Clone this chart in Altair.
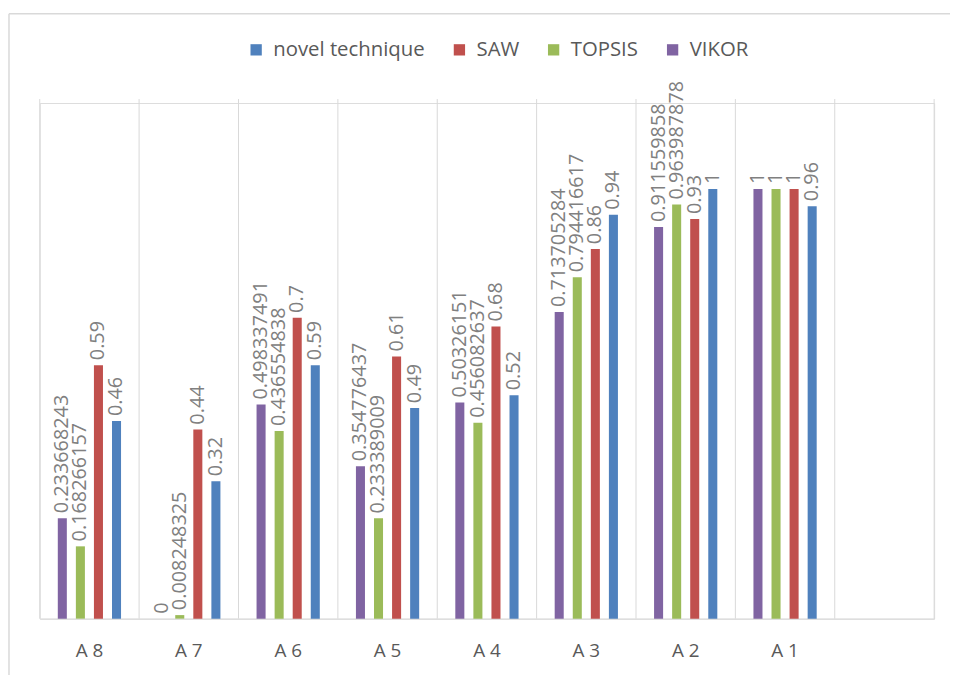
import altair as alt
import pandas as pd

# ---- data ----
categories = ["A 8", "A 7", "A 6", "A 5", "A 4", "A 3", "A 2", "A 1"]
axis_domain = categories + [""]          # Excel leaves one empty slot at the right
series_order = ["VIKOR", "TOPSIS", "SAW", "novel technique"]
legend_order = ["novel technique", "SAW", "TOPSIS", "VIKOR"]
colors = ["#4F81BD", "#C0504D", "#9BBB59", "#8064A2"]

vikor = [0.233668243, 0, 0.498337491, 0.354776437, 0.50326151, 0.713705284, 0.911559858, 1]
topsis = [0.168266157, 0.008248325, 0.436554838, 0.233389009, 0.456082637, 0.794416617, 0.963987878, 1]
saw = [0.59, 0.44, 0.7, 0.61, 0.68, 0.86, 0.93, 1]
novel = [0.46, 0.32, 0.59, 0.49, 0.52, 0.94, 1, 0.96]


def fmt(v):
    s = repr(float(v))
    return s[:-2] if s.endswith(".0") else s


rows = []
for name, vals in zip(series_order, [vikor, topsis, saw, novel]):
    for c, v in zip(categories, vals):
        rows.append({"cat": c, "series": name, "value": v, "label": fmt(v)})
df = pd.DataFrame(rows)

grid_df = pd.DataFrame({"cat": axis_domain})
end_df = pd.DataFrame({"cat": [axis_domain[-1]]})

W, H = 902, 520
FONT = "Open Sans"

xscale = alt.Scale(domain=axis_domain, paddingInner=0, paddingOuter=0)
yscale = alt.Scale(domain=[0, 1.2])
xoff = alt.XOffset("series:N", scale=alt.Scale(domain=series_order, paddingInner=0.5, paddingOuter=1))

x_axis = alt.Axis(title=None, labelFont=FONT, labelFontSize=19, labelColor="#595959",
                  labelPadding=23, ticks=False, tickSize=0, domainColor="#D9D9D9",
                  domainWidth=1, grid=False, labelAngle=0)

grid = alt.Chart(grid_df).mark_rule(color="#D9D9D9", strokeWidth=1).encode(
    x=alt.X("cat:N", scale=xscale, bandPosition=0, axis=x_axis, sort=axis_domain),
    y=alt.value(-4), y2=alt.value(H),
)
grid_end = alt.Chart(end_df).mark_rule(color="#D9D9D9", strokeWidth=1).encode(
    x=alt.X("cat:N", scale=xscale, bandPosition=1, sort=axis_domain),
    y=alt.value(-4), y2=alt.value(H),
)

bars = alt.Chart(df).mark_bar().encode(
    x=alt.X("cat:N", scale=xscale, sort=axis_domain),
    xOffset=xoff,
    y=alt.Y("value:Q", scale=yscale, axis=None),
    color=alt.Color("series:N", scale=alt.Scale(domain=legend_order, range=colors),
                    legend=alt.Legend(title=None, orient="none", legendX=208, legendY=-64,
                                      direction="horizontal", symbolType="square",
                                      symbolSize=130, symbolStrokeWidth=0,
                                      labelFont=FONT, labelFontSize=20.5,
                                      labelColor="#595959", labelOffset=7,
                                      columnPadding=24)),
)

labels = alt.Chart(df).mark_text(angle=270, align="left", baseline="middle", dx=5,
                                 font=FONT, fontSize=20, color="#808080").encode(
    x=alt.X("cat:N", scale=xscale, sort=axis_domain),
    xOffset=xoff,
    y=alt.Y("value:Q", scale=yscale, axis=None),
    text="label:N",
)

frame_df = pd.DataFrame({"k": [0]})
left_border = alt.Chart(frame_df).mark_rule(color="#D9D9D9", strokeWidth=1.5).encode(
    x=alt.value(-31), y=alt.value(-90), y2=alt.value(H + 60))
top_border = alt.Chart(frame_df).mark_rule(color="#D9D9D9", strokeWidth=1.5).encode(
    x=alt.value(-31), x2=alt.value(W + 60), y=alt.value(-90))

chart = alt.layer(grid, grid_end, bars, labels, left_border, top_border).properties(
    width=W, height=H,
    padding={"left": 32, "top": 93, "right": 16, "bottom": 54},
    autosize=alt.AutoSizeParams(type="none"),
).configure_view(stroke=None).configure(background="white")

chart.save("out.html", embed_options={"renderer": "svg", "actions": False})
